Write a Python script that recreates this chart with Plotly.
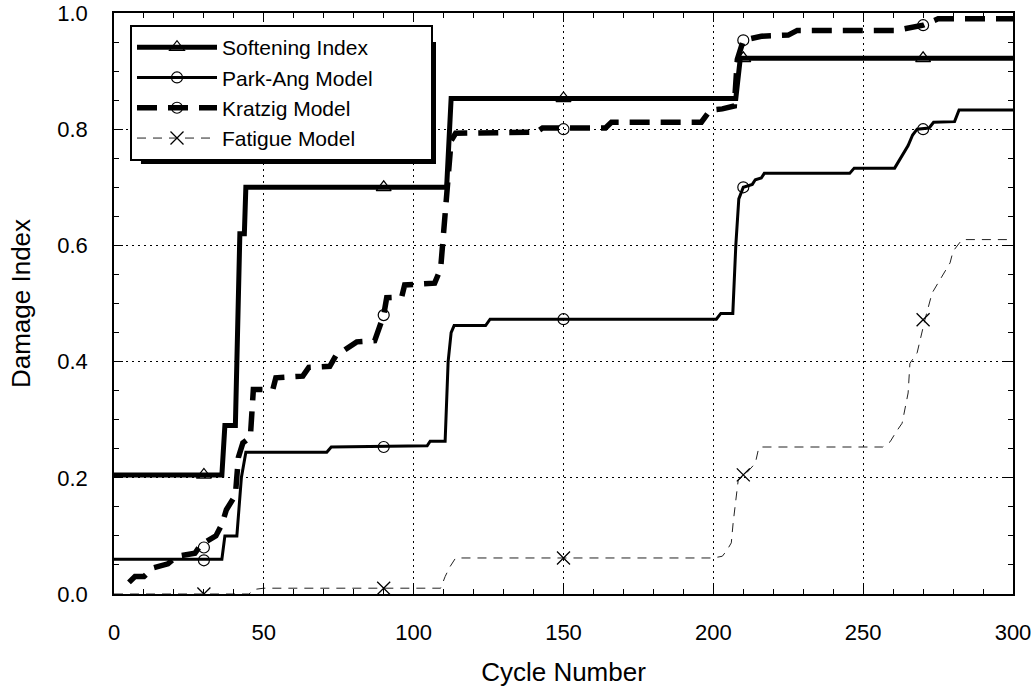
import plotly.graph_objects as go

# ---------------- data ----------------
soft_x = [0, 36, 37, 40.5, 42, 43.5, 44, 111, 112.5, 207.5, 209, 300]
soft_y = [0.205, 0.205, 0.29, 0.29, 0.62, 0.62, 0.70, 0.70, 0.853, 0.853, 0.922, 0.922]

park_x = [0, 36, 37, 41, 42.5, 44, 71, 72.5, 104.5, 105.5, 110.5, 111.5, 112.5, 113.5, 124, 125.5,
          201, 202.5, 206.5, 207.5, 208.5, 210, 213, 214, 216, 217, 245.5, 247, 260.5, 263, 264,
          265, 266.5, 268, 272, 273.5, 280.5, 282, 300]
park_y = [0.06, 0.06, 0.10, 0.10, 0.20, 0.244, 0.244, 0.253, 0.255, 0.263, 0.263, 0.40, 0.45, 0.462,
          0.462, 0.473, 0.473, 0.483, 0.483, 0.60, 0.68, 0.70, 0.705, 0.713, 0.716, 0.724, 0.724,
          0.733, 0.733, 0.755, 0.762, 0.772, 0.79, 0.80, 0.802, 0.812, 0.813, 0.833, 0.833]

kratzig_x = [5, 7, 10, 13, 18, 21, 27, 29, 34, 36, 37.5, 40.5, 41.5, 43, 45.5, 46, 46.5, 53, 54, 63,
             65, 72, 74, 77, 81, 87, 89, 90, 91, 96, 97, 107, 109, 110, 111, 112.5, 114, 141, 143,
             164, 166, 196, 199, 203, 207, 208, 210, 216, 225, 228, 261, 266, 270, 275, 300]
kratzig_y = [0.02, 0.03, 0.03, 0.045, 0.052, 0.065, 0.07, 0.085, 0.10, 0.12, 0.145, 0.17, 0.235,
             0.26, 0.27, 0.33, 0.352, 0.352, 0.372, 0.375, 0.39, 0.392, 0.41, 0.42, 0.434, 0.436,
             0.47, 0.48, 0.51, 0.511, 0.532, 0.535, 0.56, 0.62, 0.70, 0.78, 0.793, 0.795, 0.802,
             0.802, 0.812, 0.812, 0.833, 0.835, 0.84, 0.92, 0.953, 0.96, 0.962, 0.97, 0.97, 0.975,
             0.979, 0.99, 0.99]

fatigue_x = [0, 45, 47, 50, 109, 110.5, 112, 114, 200, 203, 204.5, 206, 206.6, 207.5, 208.3, 210.5,
             214, 215, 215.5, 256.5, 259, 261, 263, 265, 265.6, 268, 269, 270.6, 273, 275.6, 279,
             280, 283, 300]
fatigue_y = [0.0, 0.0, 0.008, 0.01, 0.01, 0.03, 0.046, 0.062, 0.062, 0.065, 0.075, 0.088, 0.122,
             0.167, 0.196, 0.205, 0.225, 0.248, 0.253, 0.253, 0.262, 0.279, 0.294, 0.346, 0.397,
             0.415, 0.437, 0.472, 0.518, 0.54, 0.57, 0.59, 0.61, 0.61]

marker_x = [30, 90, 150, 210, 270]
soft_mk = [0.205, 0.70, 0.853, 0.922, 0.922]
park_mk = [0.058, 0.253, 0.473, 0.70, 0.80]
kratzig_mk = [0.08, 0.48, 0.80, 0.953, 0.979]
fatigue_mk = [0.0, 0.01, 0.062, 0.205, 0.472]

names = ["Softening Index", "Park-Ang Model", "Kratzig Model", "Fatigue Model"]
x_ticks = [0, 50, 100, 150, 200, 250, 300]
y_ticks = [0.0, 0.2, 0.4, 0.6, 0.8, 1.0]

# ---------------- styles ----------------
styles = [
    dict(line=dict(color="black", width=5), marker=dict(symbol="triangle-up-open", size=13,
                                                           color="black", line=dict(width=1.2))),
    dict(line=dict(color="black", width=3), marker=dict(symbol="circle-open", size=11,
                                                           color="black", line=dict(width=1.2))),
    dict(line=dict(color="black", width=5.5, dash="20px,11px"),
         marker=dict(symbol="circle-open", size=11, color="black", line=dict(width=1.2))),
    dict(line=dict(color="#222222", width=1, dash="9px,7px"),
         marker=dict(symbol="x-thin-open", size=13, color="black", line=dict(width=1.3))),
]
series = [(soft_x, soft_y, soft_mk), (park_x, park_y, park_mk),
          (kratzig_x, kratzig_y, kratzig_mk), (fatigue_x, fatigue_y, fatigue_mk)]

fig = go.Figure()
for (xs, ys, mk), st, nm in zip(series, styles, names):
    fig.add_trace(go.Scatter(x=xs, y=ys, mode="lines", line=st["line"], showlegend=False,
                             hoverinfo="skip"))
    fig.add_trace(go.Scatter(x=marker_x, y=mk, mode="markers", marker=st["marker"],
                             showlegend=False, hoverinfo="skip"))
PAD = "\u00a0" * 9  # keeps the legend box as wide as the reference's
for st, nm in zip(styles, names):
    fig.add_trace(go.Scatter(x=[None], y=[None], mode="lines+markers", name=nm + PAD,
                             line=st["line"], marker=st["marker"]))

FONT = "Liberation Sans, Arial, sans-serif"
axis_common = dict(
    showline=True, linecolor="black", linewidth=1.5, mirror="ticks",
    ticks="inside", ticklen=9, tickwidth=1.3, tickcolor="black",
    showgrid=True, gridcolor="black", gridwidth=1.3, griddash="2px,4px",
    zeroline=False, tickfont=dict(family=FONT, size=22, color="black"),
    automargin=False,
)
fig.update_xaxes(range=[0, 300], tickvals=x_ticks, ticktext=[str(v) for v in x_ticks],
                 minor=dict(dtick=10, ticks="inside", ticklen=5, tickcolor="black", showgrid=False),
                 title=dict(text="Cycle Number", font=dict(family=FONT, size=26, color="black"),
                            standoff=22),
                 ticklabelstandoff=18, **axis_common)
fig.update_yaxes(range=[0, 1.0], tickvals=y_ticks, ticktext=[f"{v:.1f}" for v in y_ticks],
                 minor=dict(dtick=0.05, ticks="inside", ticklen=5, tickcolor="black", showgrid=False),
                 title=dict(text="Damage Index", font=dict(family=FONT, size=26, color="black"),
                            standoff=19),
                 ticklabelstandoff=20, **axis_common)

# legend drop shadow (right / bottom), drawn under the legend box
fig.add_shape(type="rect", xref="paper", yref="paper",
              x0=0.03, x1=(436 - 114) / 899, y0=(594 - 164) / 581, y1=0.95,
              fillcolor="black", line=dict(width=0), layer="above")

fig.update_layout(
    width=1035, height=687,
    margin=dict(l=114, r=22, t=13, b=93),
    paper_bgcolor="white", plot_bgcolor="white",
    font=dict(family=FONT, color="black"),
    legend=dict(x=(130 - 114) / 899, y=(594 - 25) / 581, xanchor="left", yanchor="top",
                bgcolor="white", bordercolor="black", borderwidth=2,
                font=dict(family=FONT, size=21, color="black"),
                itemwidth=80, tracegroupgap=0),
)

fig.write_html("out.html", config={"displayModeBar": False},
               post_script="document.body.style.margin='0';")
